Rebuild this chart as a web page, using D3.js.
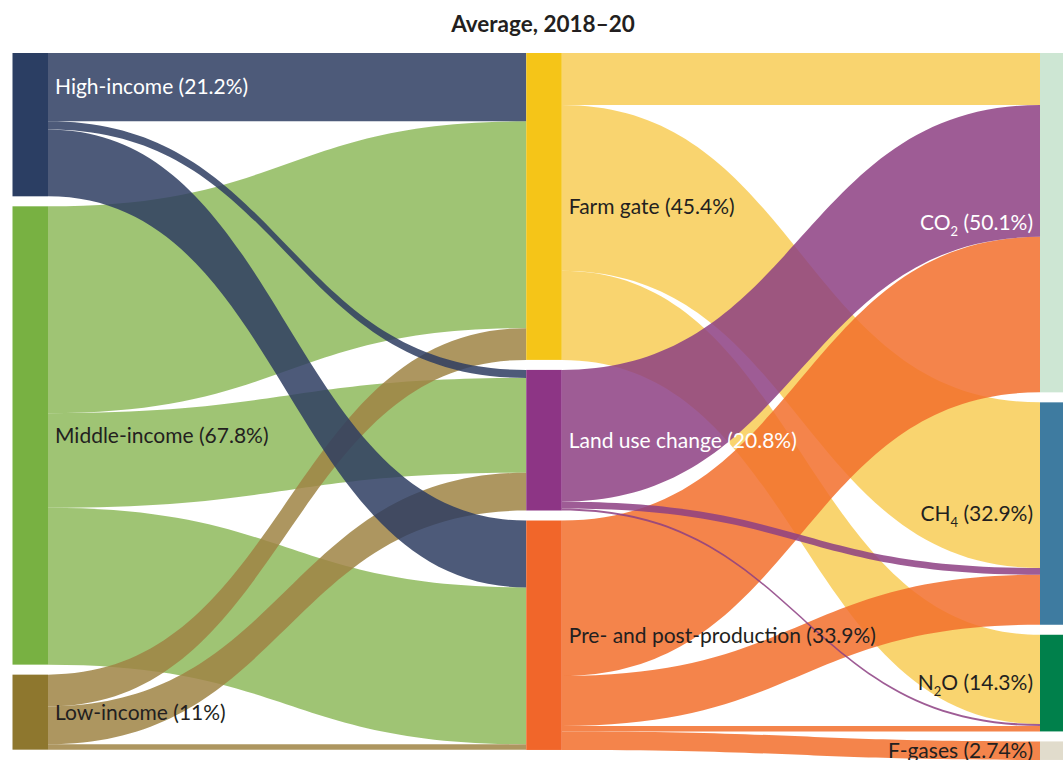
<!DOCTYPE html>
<meta charset="utf-8">
<head>
	<title>Average, 2018–20</title>
	<script src="https://cdn.jsdelivr.net/npm/d3@7"></script>
	<style>
		body { margin: 0; background: #fff; }
		text { font-family: Lato, "Open Sans", sans-serif; }
	</style>
</head>
<body>
	<svg id="chart" width="1063" height="760"></svg>
	<script>
		// nodes
		var nodeNames = ["High-income", "Middle-income", "Low-income",
			"Farm gate", "Land use change", "Pre- and post-production",
			"CO2", "CH4", "N2O", "F-gases"];
		var nodeShares = ["21.2%", "67.8%", "11%", "45.4%", "20.8%", "33.9%", "50.1%", "32.9%", "14.3%", "2.74%"];
		var nodeColumn = [0, 0, 0, 1, 1, 1, 2, 2, 2, 2];
		var nodeColors = ["#2b3e63", "#78b142", "#8e772e", "#f5c518", "#8d3585", "#f1662a",
			"#cde6d3", "#3e7ba0", "#00804b", "#e1dccc"];
		var linkColors = ["#2e3d62", "#8eba5c", "#9f8444", "#f8cc56", "#8d4083", "#f26e2b"];
		var labelColors = ["#fff", "#231f20", "#231f20", "#231f20", "#fff", "#231f20", "#fff", "#231f20", "#231f20", "#231f20"];

		// flows, in % of total emissions: [source, target, value] (listed in drawing order)
		var incomeLinks = [
			[1, 3, 30.6], [1, 4, 14.0], [1, 5, 23.2],
			[2, 3, 4.7], [2, 4, 5.6], [2, 5, 0.8],
			[0, 3, 10.1], [0, 4, 1.2], [0, 5, 9.9]
		];
		var stageLinks = [
			[3, 6, 7.7], [3, 7, 24.5], [3, 8, 13.2],
			[5, 6, 23.0], [5, 7, 7.4], [5, 8, 0.8], [5, 9, 2.74],
			[4, 6, 19.5], [4, 7, 1.0], [4, 8, 0.3]
		];

		var chartTop = 53, nodeW = 35.5, pad = 10;

		var svg = d3.select("#chart");

		svg.append("text")
			.attr("x", 543)
			.attr("y", 32)
			.attr("text-anchor", "middle")
			.attr("font-size", "22.5px")
			.attr("font-weight", "bold")
			.attr("fill", "#231f20")
			.text("Average, 2018–20");

		var nodes = nodeNames.map(function (n, i) {
			return { i: i, name: n, col: nodeColumn[i], out: [], inn: [] };
		});
		var links = incomeLinks.concat(stageLinks).map(function (l) {
			var d = { source: nodes[l[0]], target: nodes[l[1]], value: l[2] };
			d.source.out.push(d);
			d.target.inn.push(d);
			return d;
		});

		var x = d3.scaleLinear().domain([0, 2]).range([12.5, 1040]);
		var ky = d3.scaleLinear().domain([0, 100]).range([0, 676]);

		// stack nodes in each column
		[0, 1, 2].forEach(function (c) {
			var y = chartTop;
			nodes.filter(function (n) { return n.col == c; }).forEach(function (n) {
				n.value = Math.max(d3.sum(n.out, function (l) { return l.value; }),
					d3.sum(n.inn, function (l) { return l.value; }));
				n.x0 = x(c);
				n.x1 = n.x0 + nodeW;
				n.y0 = y;
				n.y1 = y + ky(n.value);
				y = n.y1 + pad;
			});
		});

		// link positions inside nodes
		nodes.forEach(function (n) {
			var y = n.y0;
			n.out.slice().sort(function (a, b) { return a.target.i - b.target.i; }).forEach(function (l) {
				l.sy0 = y; y += ky(l.value); l.sy1 = y;
			});
			y = n.y0;
			n.inn.slice().sort(function (a, b) { return a.source.i - b.source.i; }).forEach(function (l) {
				l.ty0 = y; y += ky(l.value); l.ty1 = y;
			});
		});

		function ribbon(d) {
			var x0 = d.source.x1, x1 = d.target.x0, xm = (x0 + x1) / 2;
			var p = d3.path();
			p.moveTo(x0, d.sy0);
			p.bezierCurveTo(xm, d.sy0, xm, d.ty0, x1, d.ty0);
			p.lineTo(x1, d.ty1);
			p.bezierCurveTo(xm, d.ty1, xm, d.sy1, x0, d.sy1);
			p.closePath();
			return p.toString();
		}

		svg.append("g")
			.selectAll("path")
			.data(links)
			.enter()
			.append("path")
			.attr("d", ribbon)
			.attr("fill", function (d) { return linkColors[d.source.i]; })
			.attr("fill-opacity", 0.85);

		svg.append("g")
			.selectAll("rect")
			.data(nodes)
			.enter()
			.append("rect")
			.attr("x", function (d) { return d.x0; })
			.attr("y", function (d) { return d.y0; })
			.attr("width", nodeW)
			.attr("height", function (d) { return d.y1 - d.y0; })
			.attr("fill", function (d) { return nodeColors[d.i]; });

		// labels
		var label = svg.append("g")
			.selectAll("text")
			.data(nodes)
			.enter()
			.append("text")
			.attr("x", function (d) { return d.col == 2 ? d.x0 - 7 : d.x1 + 7; })
			.attr("y", function (d) {
				// the high-income label sits in its first band
				if (d.i == 0) { var l = d.out[0]; return (l.sy0 + l.sy1) / 2; }
				return (d.y0 + d.y1) / 2;
			})
			.attr("dy", "0.35em")
			.attr("text-anchor", function (d) { return d.col == 2 ? "end" : "start"; })
			.attr("font-size", "21px")
			.attr("fill", function (d) { return labelColors[d.i]; });

		label.each(function (d) {
			var t = d3.select(this);
			var m = d.col == 2 ? d.name.match(/^([A-Z]+)(\d)(\w*)$/) : null;
			if (m) {
				t.append("tspan").text(m[1]);
				t.append("tspan").attr("font-size", "13px").attr("dy", "6").text(m[2]);
				t.append("tspan").attr("dy", "-6").text(m[3] + " (" + nodeShares[d.i] + ")");
			} else {
				t.text(d.name + " (" + nodeShares[d.i] + ")");
			}
		});
	</script>
</body>
